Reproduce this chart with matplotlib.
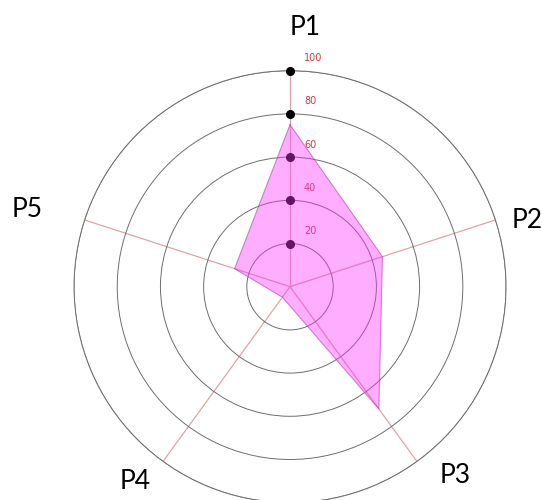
import numpy as np
import matplotlib
matplotlib.use("Agg")
import matplotlib.pyplot as plt

categories = ["P1", "P2", "P3", "P4", "P5"]
values = [75, 45, 70, 6, 27]
ring_values = [20, 40, 60, 80, 100]
ring_labels = ["20", "40", "60", "80", "100"]

# label placement (radius in data units, angle offset in degrees)
label_r = [120, 114, 116, 115, 127]
label_shift = [3.3, 2.5, -5.1, 2.5, -1.6]

n = len(categories)
angles = np.linspace(0, 2 * np.pi, n, endpoint=False)

fig = plt.figure(figsize=(5.42, 5.00), dpi=100)
ax = fig.add_axes([0.1366, -0.0054, 0.797, 0.864], projection="polar")
ax.set_theta_zero_location("N")
ax.set_theta_direction(-1)
ax.set_ylim(0, 100)

ax.set_xticks(angles)
ax.set_xticklabels([])
ax.set_yticks(ring_values)
ax.set_yticklabels([])
ax.xaxis.grid(True, color="#d9a6a6", linewidth=0.9)
ax.yaxis.grid(True, color="#6e6e6e", linewidth=0.7)
ax.spines["polar"].set_color("#6e6e6e")
ax.spines["polar"].set_linewidth(0.7)
ax.tick_params(length=0)

# dots and value labels along the P1 axis
ax.plot([0] * len(ring_values), ring_values, "o", color="black",
        markersize=5.5, zorder=3, clip_on=False)
for rv, rl in zip(ring_values, ring_labels):
    ax.annotate(rl, xy=(0, rv), xytext=(10, 9), textcoords="offset points",
                fontsize=7, color="#cc3b3b", ha="left", va="center",
                annotation_clip=False)

closed_a = np.append(angles, angles[0])
closed_v = np.append(values, values[0])
ax.fill(closed_a, closed_v, color="#ff33ff", alpha=0.4, zorder=4,
        edgecolor="none")
ax.plot(closed_a, closed_v, color="#b040b0", linewidth=0.8, alpha=0.6,
        zorder=5)

for a, cat, r, s in zip(angles, categories, label_r, label_shift):
    ax.text(a + np.deg2rad(s), r, cat, fontsize=19, family="Lato",
            ha="center", va="center", clip_on=False)

fig.savefig("out.png", dpi=100)
